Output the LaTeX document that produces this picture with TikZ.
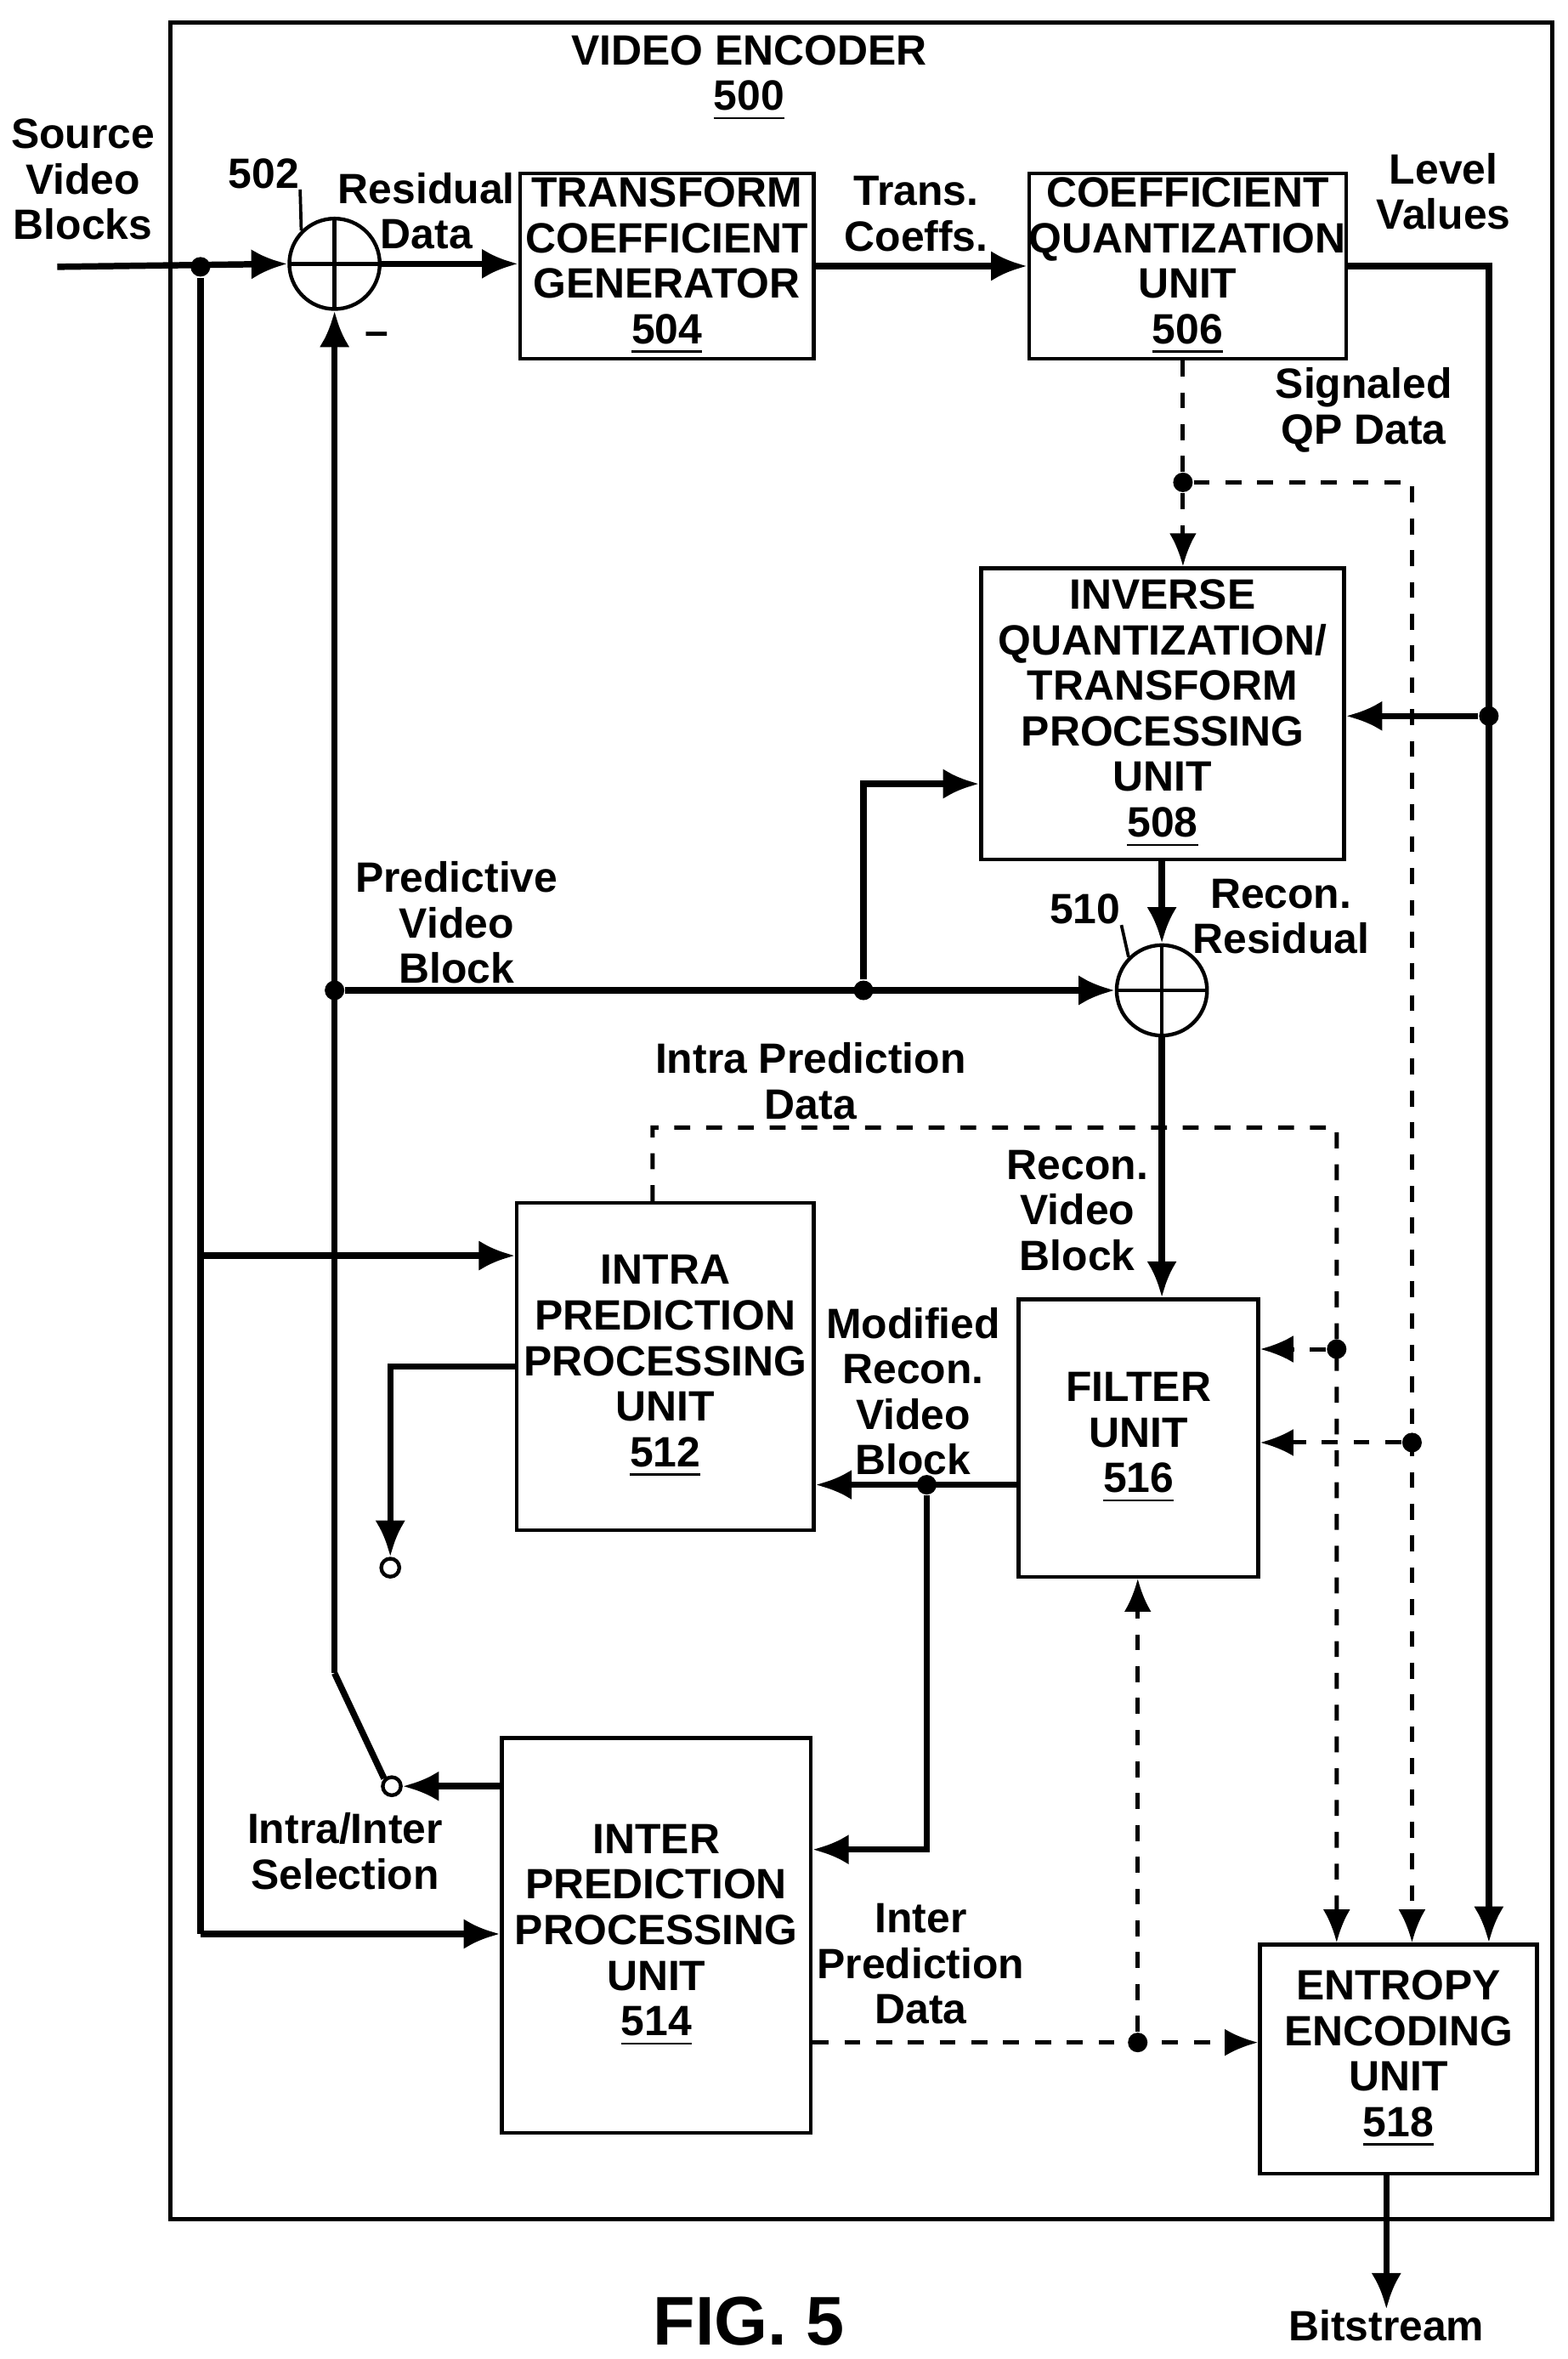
\documentclass[tikz,border=0pt]{standalone}
\usepackage{fontspec}
\setmainfont{Liberation Sans}
\usetikzlibrary{arrows.meta,positioning}

\tikzset{
  blk/.style={draw, line width=0.7pt, align=center, inner sep=0pt, font=\fontsize{8}{8.6}\selectfont\bfseries},
  lbl/.style={align=center, inner sep=0pt, font=\fontsize{8}{8.6}\selectfont\bfseries},
  sumnode/.style={draw, circle, line width=0.7pt, minimum size=6mm, inner sep=0pt,
    path picture={\draw[line width=0.7pt] (path picture bounding box.north) -- (path picture bounding box.south)
      (path picture bounding box.west) -- (path picture bounding box.east);}},
  swc/.style={draw, circle, line width=0.7pt, minimum size=1.2mm, inner sep=0pt, fill=white},
  arr/.style={line width=1.2pt, -{Latex[length=2.4mm,width=2mm]}},
  darr/.style={line width=0.8pt, dashed, -{Latex[length=2.2mm,width=1.8mm]}},
  dsh/.style={line width=0.8pt, dashed},
  dot/.style={fill, circle, minimum size=1.3mm, inner sep=0pt}
}

\begin{document}
\begin{tikzpicture}[x=0.1mm, y=-0.1mm]
  \useasboundingbox (0,0) rectangle (1040,1565);

  % outer frame
  \draw[line width=0.8pt] (113,15) rectangle (1030,1472);
  \node[lbl] (title) at (497,52) {VIDEO ENCODER\\\underline{500}};

  % units
  \node[blk, minimum width=19.5mm, minimum height=12.3mm] (tcg) at (442.5,176.5) {TRANSFORM\\COEFFICIENT\\GENERATOR\\\underline{504}};
  \node[blk, minimum width=21mm, minimum height=12.3mm] (cqu) at (788,176.5) {COEFFICIENT\\QUANTIZATION\\UNIT\\\underline{506}};
  \node[blk, minimum width=24.1mm, minimum height=19.3mm] (iqt) at (771.5,473.5) {INVERSE\\QUANTIZATION/\\TRANSFORM\\PROCESSING\\UNIT\\\underline{508}};
  \node[blk, minimum width=19.7mm, minimum height=21.7mm] (ipp) at (441.5,906.5) {INTRA\\PREDICTION\\PROCESSING\\UNIT\\\underline{512}};
  \node[blk, minimum width=15.9mm, minimum height=18.4mm] (flt) at (755.5,954) {FILTER\\UNIT\\\underline{516}};
  \node[blk, minimum width=20.5mm, minimum height=26.2mm] (epp) at (435.5,1284) {INTER\\PREDICTION\\PROCESSING\\UNIT\\\underline{514}};
  \node[blk, minimum width=18.4mm, minimum height=15.2mm] (eeu) at (928,1366) {ENTROPY\\ENCODING\\UNIT\\\underline{518}};

  % summers and switch
  \node[sumnode] (s502) at (222,175) {};
  \node[sumnode] (s510) at (771,657) {};
  \node[swc] (sw1) at (260,1185) {};
  \node[swc] (sw2) at (259,1040) {};

  % labels
  \node[lbl] (srcl) at (55,119) {Source\\Video\\Blocks};
  \node[lbl] (n502) at (175,115) {502};
  \draw[line width=0.6pt] (n502.south east) -- (s502.north west);
  \node[lbl] (minus) at (250,225) {--};
  \node[lbl] (resl) at (283,140) {Residual\\Data};
  \node[lbl] (tcl) at (608,142) {Trans.\\Coeffs.};
  \node[lbl] (lvl) at (958,127) {Level\\Values};
  \node[lbl] (qpl) at (905,272) {Signaled\\QP Data};
  \node[lbl] (n510) at (720,603) {510};
  \draw[line width=0.6pt] (n510.south east) -- (s510.north west);
  \node[lbl] (rrl) at (850,608) {Recon.\\Residual};
  \node[lbl] (pvl) at (303,612) {Predictive\\Video\\Block};
  \node[lbl] (ipdl) at (538,717) {Intra Prediction\\Data};
  \node[lbl] (rvl) at (715,803) {Recon.\\Video\\Block};
  \node[lbl] (mrl) at (606,923) {Modified\\Recon.\\Video\\Block};
  \node[lbl] (swl) at (229,1228) {Intra/Inter\\Selection};
  \node[lbl] (epdl) at (611,1303) {Inter\\Prediction\\Data};
  \node[lbl] (bs) at (920,1543) {Bitstream};
  \node[lbl, font=\fontsize{13}{14}\selectfont\bfseries] (fig) at (497,1540) {FIG. 5};

  % junctions
  \coordinate (src) at (38,177);
  \node[dot] (sd) at (133,177) {};
  \node[dot] (lvd) at (988,475) {};
  \node[dot] (qp) at (785,320) {};
  \node[dot] (qpf) at (937,957) {};
  \node[dot] (ipf) at (887,895) {};
  \node[dot] (pd1) at (222,657) {};
  \node[dot] (pd2) at (573,657) {};
  \node[dot] (fd) at (615,985) {};
  \node[dot] (idd) at (755,1355) {};
  \coordinate (swp) at (222,1110);

  % forward path
  \draw[arr] (src) -- (s502.west);
  \draw[arr] (s502.east) -- (tcg.west |- s502);
  \draw[arr] (tcg) -- (cqu);
  \draw[arr] (cqu.east) -| ([xshift=6mm]eeu.north);
  \draw[arr] (lvd) -- (lvd -| iqt.east);
  \draw[line width=1.2pt] (sd) -- (133,1283);
  \draw[arr] (133,833) -- (ipp.west |- 0,833);
  \draw[arr] (133,1283) -- (epp.west |- 0,1283);

  % reconstruction
  \draw[arr] (iqt.south -| s510) -- (s510.north);
  \draw[arr] (pd1) -- (s510.west);
  \draw[arr] (pd2) |- (iqt.west |- 0,520);
  \draw[arr] (s510.south) -- (s510 |- flt.north);
  \draw[arr] (flt.west |- fd) -- (ipp.east |- fd);
  \draw[arr] (fd) |- (epp.east |- 0,1227);

  % prediction select
  \draw[arr] (ipp.west) -| (sw2.north);
  \draw[arr] (epp.west |- sw1) -- (sw1.east);
  \draw[line width=1.2pt] (sw1.north west) -- (swp);
  \draw[arr] (swp) -- (s502.south);
  \draw[arr] (bs.north |- eeu.south) -- (bs.north);

  % side data (dashed)
  \draw[dsh] (qp |- cqu.south) -- (qp);
  \draw[darr] (qp) -- (qp |- iqt.north);
  \draw[darr] (qp) -| ([xshift=0.9mm]eeu.north);
  \draw[darr] (qpf) -- (qpf -| flt.east);
  \draw[darr] ([xshift=-0.85mm]ipp.north) |- (887,748) -- ([xshift=-4.1mm]eeu.north);
  \draw[darr] (ipf) -- (ipf -| flt.east);
  \draw[darr] (epp.east |- idd) -- (eeu.west |- idd);
  \draw[darr] (idd) -- (idd |- flt.south);
\end{tikzpicture}
\end{document}
